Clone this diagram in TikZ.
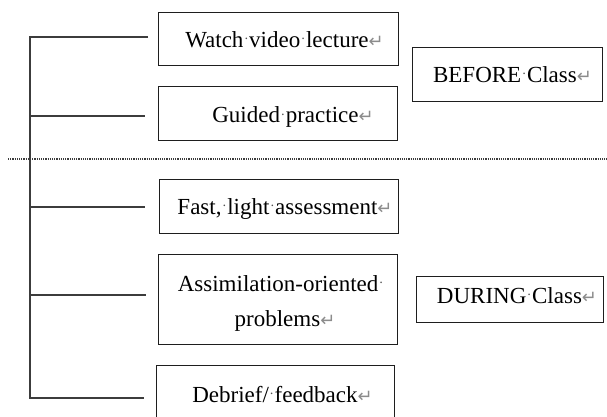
\documentclass[tikz,border=0pt]{standalone}
\usepackage{fontspec}
\setmainfont{Liberation Serif}
\newfontfamily\symfont{DejaVu Sans}
\definecolor{retgray}{HTML}{8C8C8C}
\definecolor{conngray}{HTML}{3C3C3C}
\definecolor{boxgray}{HTML}{1E1E1E}
\definecolor{dotgray}{HTML}{505050}
\newcommand{\retmark}{{\color{retgray}\symfont\fontsize{18}{18}\selectfont ↵}}
\newcommand{\spdot}{\makebox[5.75pt]{\raisebox{4pt}{\color{dotgray}\fontsize{14}{14}\selectfont ·}}}
\begin{document}
\begin{tikzpicture}[x=1pt,y=-1pt,
  box/.style={draw=boxgray,line width=1.3pt,inner sep=0pt,anchor=north west},
  conn/.style={draw=conngray,line width=1.5pt},
  sep/.style={draw=conngray,line width=1.1pt,dash pattern=on 1.1pt off 1.1pt},
  txt/.style={anchor=base,inner sep=0pt,font=\fontsize{23}{35}\selectfont}]
\clip (0,0) rectangle (607,417);
\fill[white] (0,0) rectangle (607,417);
% boxes
\node[box,minimum width=240pt,minimum height=53pt] (w) at (158,12) {};
\node[box,minimum width=239pt,minimum height=54pt] (g) at (158,86) {};
\node[box,minimum width=239pt,minimum height=54pt] (f) at (159,179) {};
\node[box,minimum width=239pt,minimum height=90pt] (a) at (158,254) {};
\node[box,minimum width=238pt,minimum height=70pt] (d) at (156,365) {};
\node[box,minimum width=190pt,minimum height=54pt] (bc) at (412,47) {};
\node[box,minimum width=187pt,minimum height=46pt] (dc) at (416,276) {};
% texts
\node[txt] (wt) at (284.5,48) {Watch\spdot video\spdot lecture\retmark};
\node[txt] (gt) at (293,123) {Guided\spdot practice\retmark};
\node[txt] (ft) at (285,214) {Fast,\spdot light\spdot assessment\retmark};
\node[txt] (at1) at (281,291) {Assimilation-oriented\spdot};
\node[txt] (at2) at (285,326) {problems\retmark};
\node[txt] (dt) at (282.5,402) {Debrief/\spdot feedback\retmark};
\node[txt] (bt) at (512.5,83) {BEFORE\spdot Class\retmark};
\node[txt] (dct) at (517,303) {DURING\spdot Class\retmark};
% connectors
\coordinate (t1) at (30,37);
\coordinate (t2) at (30,116);
\coordinate (t3) at (30,207);
\coordinate (t4) at (30,295);
\coordinate (t5) at (30,398);
\coordinate (e1) at (148,37);
\coordinate (e2) at (145,116);
\coordinate (e3) at (145,207);
\coordinate (e4) at (146,295);
\coordinate (e5) at (144,398);
\draw[conn] (e1) -- (t1) -- (t5) -- (e5);
\draw[conn] (t2) -- (e2);
\draw[conn] (t3) -- (e3);
\draw[conn] (t4) -- (e4);
% separator
\coordinate (s1) at (8,159);
\coordinate (s2) at (607,159);
\draw[sep] (s1) -- (s2);
\end{tikzpicture}
\end{document}
